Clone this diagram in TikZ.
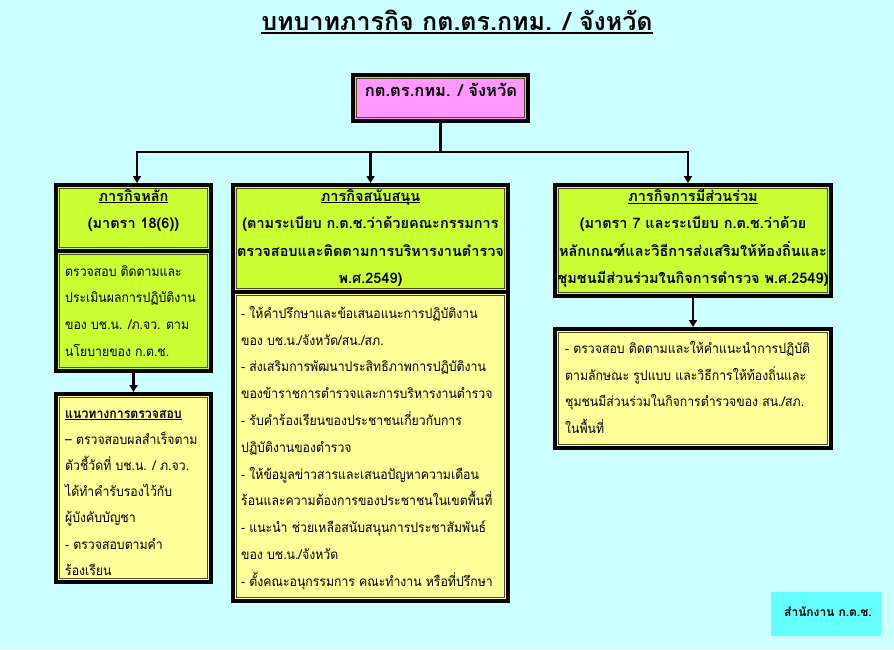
\documentclass[tikz,border=0pt]{standalone}
\usepackage{fontspec}
\setmainfont[Script=Thai]{Loma}
\newfontfamily\bodyfont[Script=Thai, FakeStretch=0.91]{Loma}
\usetikzlibrary{arrows.meta}
\definecolor{bgc}{HTML}{CCFFFF}
\definecolor{pinkf}{HTML}{FF99FF}
\definecolor{greenf}{HTML}{CCFF33}
\definecolor{yellowf}{HTML}{FFFF99}
\definecolor{cyanf}{HTML}{66FFFF}
\definecolor{innerline}{HTML}{4D4D1A}
\newcommand\ulx[1]{\setbox0\hbox{#1}\rlap{\rule[-2pt]{\wd0}{0.8pt}}\box0}
\newcommand\ultitle[1]{\setbox0\hbox{#1}\rlap{\rule[-3.5pt]{\wd0}{1.6pt}}\box0}
\begin{document}
\begin{tikzpicture}[x=1pt,y=-1pt,
  frame/.style={draw=black, line width=4pt, inner sep=0pt, anchor=north west,
    path picture={\draw[line width=1pt, innerline]
      ([shift={(3.5pt,-3.5pt)}]path picture bounding box.north west) rectangle
      ([shift={(-3.5pt,3.5pt)}]path picture bounding box.south east);}},
  txt/.style={inner sep=0pt, font=\bodyfont\fontsize{13.5}{26.8}\selectfont, align=left, anchor=north west},
  htxt/.style={inner sep=0pt, font=\bfseries\fontsize{14.5}{27.5}\selectfont, align=center, anchor=north},
  conn/.style={line width=2.6pt, draw=black},
  arr/.style={conn, -{Triangle[length=7pt,width=8pt]}}]
\fill[bgc] (0,0) rectangle (894,649);
\useasboundingbox (0,0) rectangle (894,649);

% title
\node[inner sep=0pt, font=\bfseries\fontsize{25}{28}\selectfont, anchor=base] (title) at (457,30)
  {\ultitle{บทบาทภารกิจ กต.ตร.กทม. / จังหวัด}};

% top box
\node[frame, fill=pinkf, minimum width=175pt, minimum height=46pt] (top) at (351,73) {};
\node[inner sep=0pt, font=\bfseries\fontsize{16.5}{18}\selectfont, anchor=base] (toptxt) at (441,96) {กต.ตร.กทม. / จังหวัด};

% column 1
\node[frame, fill=greenf, minimum width=155pt, minimum height=66pt] (b1h) at (54,183) {};
\node[frame, fill=greenf, minimum width=155pt, minimum height=120pt] (b1b) at (54,249) {};
\node[frame, fill=yellowf, minimum width=155pt, minimum height=188pt] (b1c) at (54,392) {};
\node[htxt] (t1h) at (133.5,189) {\ulx{ภารกิจหลัก}\\(มาตรา 18(6))};
\node[txt] (t1b) at (65,265) {ตรวจสอบ ติดตามและ\\ประเมินผลการปฏิบัติงาน\\ของ บช.น. /ภ.จว. ตาม\\นโยบายของ ก.ต.ช.};
\node[txt, font=\bodyfont\fontsize{13.5}{26.2}\selectfont] (t1c) at (65,410) {\textbf{\ulx{แนวทางการตรวจสอบ}}\\– ตรวจสอบผลสำเร็จตาม\\ตัวชี้วัดที่ บช.น. / ภ.จว.\\ได้ทำคำรับรองไว้กับ\\ผู้บังคับบัญชา\\- ตรวจสอบตามคำ\\ร้องเรียน};

% column 2
\node[frame, fill=greenf, minimum width=275pt, minimum height=107pt] (b2h) at (231,183) {};
\node[frame, fill=yellowf, minimum width=275pt, minimum height=309pt] (b2b) at (231,290) {};
\node[htxt] (t2h) at (370.5,189) {\ulx{ภารกิจสนับสนุน}\\(ตามระเบียบ ก.ต.ช.ว่าด้วยคณะกรรมการ\\ตรวจสอบและติดตามการบริหารงานตำรวจ\\พ.ศ.2549)};
\node[txt] (t2b) at (241,306) {- ให้คำปรึกษาและข้อเสนอแนะการปฏิบัติงาน\\ของ บช.น./จังหวัด/สน./สภ.\\- ส่งเสริมการพัฒนาประสิทธิภาพการปฏิบัติงาน\\ของข้าราชการตำรวจและการบริหารงานตำรวจ\\- รับคำร้องเรียนของประชาชนเกี่ยวกับการ\\ปฏิบัติงานของตำรวจ\\- ให้ข้อมูลข่าวสารและเสนอปัญหาความเดือน\\ร้อนและความต้องการของประชาชนในเขตพื้นที่\\- แนะนำ ช่วยเหลือสนับสนุนการประชาสัมพันธ์\\ของ บช.น./จังหวัด\\- ตั้งคณะอนุกรรมการ คณะทำงาน หรือที่ปรึกษา};

% column 3
\node[frame, fill=greenf, minimum width=276pt, minimum height=111pt] (b3h) at (553,183) {};
\node[frame, fill=yellowf, minimum width=276pt, minimum height=119pt] (b3b) at (553,327) {};
\node[htxt] (t3h) at (693,189) {\ulx{ภารกิจการมีส่วนร่วม}\\(มาตรา 7 และระเบียบ ก.ต.ช.ว่าด้วย\\หลักเกณฑ์และวิธีการส่งเสริมให้ท้องถิ่นและ\\ชุมชนมีส่วนร่วมในกิจการตำรวจ พ.ศ.2549)};
\node[txt] (t3b) at (565,341) {- ตรวจสอบ ติดตามและให้คำแนะนำการปฏิบัติ\\ตามลักษณะ รูปแบบ และวิธีการให้ท้องถิ่นและ\\ชุมชนมีส่วนร่วมในกิจการตำรวจของ สน./สภ.\\ในพื้นที่};

% office label
\node[fill=cyanf, minimum width=110pt, minimum height=44pt, inner sep=0pt, anchor=north west] (office) at (771,592) {};
\node[inner sep=0pt, font=\bfseries\fontsize{12}{14}\selectfont] (officetxt) at (828,612) {สำนักงาน ก.ต.ช.};

% connectors
\coordinate (hub) at (top.south |- 0,152);
\coordinate (j1) at (137,152);
\coordinate (j2) at (b2h.north |- hub);
\coordinate (j3) at (688,152);
\draw[conn] (top.south) -- (hub);
\draw[conn, line cap=rect] (j1) -- (j3);
\draw[arr] (j1) -- (j1 |- b1h.north);
\draw[arr] (j2) -- (b2h.north);
\draw[arr] (j3) -- (j3 |- b3h.north);
\draw[arr] (b1b.south) -- (b1c.north);
\draw[arr] (b3h.south) -- (b3b.north);
\end{tikzpicture}
\end{document}
